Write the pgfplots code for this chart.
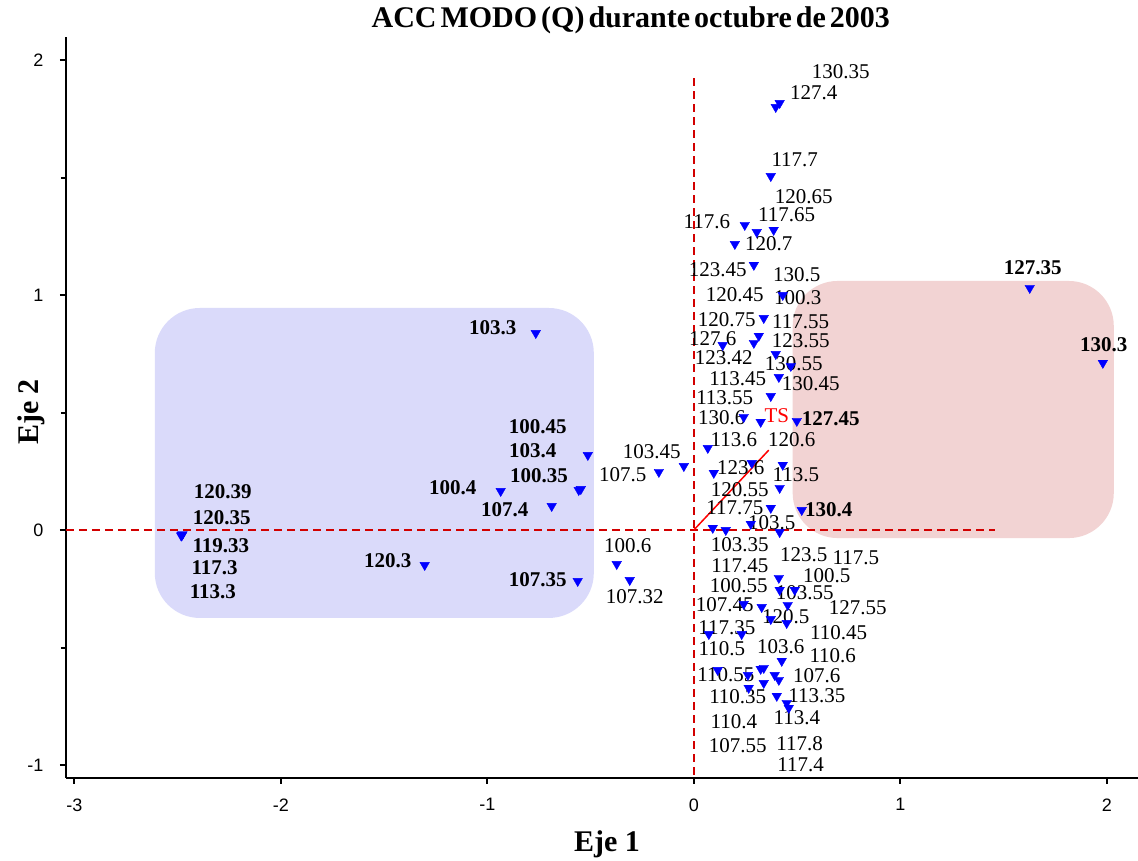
\documentclass[border=0pt]{standalone}
\usepackage{pgfplots}
\pgfplotsset{compat=1.18}
\usepackage{fontspec}
\setmainfont{Liberation Serif}
\newfontfamily\tickfont{Liberation Sans}
\definecolor{ptblue}{RGB}{0,0,255}
\definecolor{leftbox}{RGB}{218,218,250}
\definecolor{rightbox}{RGB}{242,211,211}
\definecolor{dashred}{RGB}{210,0,0}
\tikzset{
  lab/.style={font=\fontsize{21}{21}\selectfont, inner sep=0pt, anchor=center},
  blab/.style={font=\bfseries\fontsize{21}{21}\selectfont, inner sep=0pt, anchor=center},
}
\pgfplotstableread{
x y
-0.765 0.838
-0.513 0.319
-0.557 0.170
-0.547 0.174
-0.935 0.166
-0.688 0.102
-2.479 -0.021
-2.476 -0.018
-2.482 -0.024
-2.478 -0.020
-2.480 -0.022
-1.303 -0.149
-0.562 -0.217
1.627 1.030
1.981 0.711
0.499 0.464
0.523 0.085
0.397 1.800
0.416 1.817
0.373 1.506
0.247 1.298
0.305 1.268
0.387 1.277
0.199 1.217
0.291 1.128
0.431 1.000
0.339 0.902
0.315 0.826
0.291 0.796
0.140 0.787
0.397 0.749
0.470 0.698
0.412 0.651
0.373 0.570
0.242 0.481
0.324 0.460
0.068 0.349
-0.048 0.272
-0.169 0.247
0.097 0.243
0.281 0.285
0.431 0.277
0.416 0.179
0.373 0.094
0.276 0.026
0.092 0.009
0.155 0.000
0.416 -0.009
-0.373 -0.145
-0.310 -0.213
0.412 -0.204
0.416 -0.255
0.489 -0.255
0.455 -0.319
0.242 -0.315
0.329 -0.328
0.373 -0.379
0.450 -0.396
0.073 -0.443
0.232 -0.443
0.426 -0.557
0.116 -0.596
0.262 -0.617
0.324 -0.591
0.339 -0.587
0.392 -0.617
0.412 -0.638
0.266 -0.672
0.339 -0.651
0.402 -0.706
0.450 -0.736
0.460 -0.757
}\pts
\begin{document}
\begin{tikzpicture}
\begin{axis}[
  at={(0,0)}, anchor=south west,
  scale only axis,
  x=206.5pt, y=235pt,
  xmin=-3.04, xmax=2.15, ymin=-1.055, ymax=2.1,
  axis x line*=bottom, axis y line*=left,
  axis line style={line width=1.6pt, -},
  xtick={-3,-2,-1,0,1,2}, xticklabels={-3,-2,-1,0,1,2},
  ytick={-1,0,1,2}, yticklabels={-1,0,1,2},
  minor ytick={-0.5,0.5,1.5},
  tick align=outside,
  major tick length=6pt, minor tick length=5pt,
  tick style={line width=2pt, black},
  every tick label/.append style={font=\tickfont\fontsize{18}{18}\selectfont},
  xticklabel style={yshift=-11pt},
  yticklabel style={xshift=-13pt},
  clip=false,
  title={\bfseries\fontsize{30}{30}\selectfont\spaceskip=4pt ACC MODO (Q) durante octubre de 2003},
  title style={at={(axis description cs:0.527,1.0116)}, anchor=base, yshift=0pt},
  every axis title shift=0pt,
  xlabel={\bfseries\fontsize{30}{30}\selectfont Eje 1},
  xlabel style={at={(axis description cs:0.5047,-0.0985)}, anchor=base},
  ylabel={\bfseries\fontsize{30}{30}\selectfont Eje 2},
  ylabel style={at={(axis description cs:-0.0252,0.4937)}, anchor=base},
]
% shaded groups
\fill[leftbox, rounded corners=45pt] (axis cs:-2.61,0.945) rectangle (axis cs:-0.484,-0.374);
\fill[rightbox, rounded corners=45pt] (axis cs:0.479,1.06) rectangle (axis cs:2.034,-0.034);
% reference lines
\draw[dashred, line width=1.5pt, dash pattern=on 8pt off 5pt] (axis cs:-3.04,0) -- (axis cs:1.46,0);
\draw[dashred, line width=1.6pt, dash pattern=on 8pt off 5pt] (axis cs:0,1.923) -- (axis cs:0,-1.055);
\draw[red, line width=1.5pt] (axis cs:0,0) -- (axis cs:0.363,0.340);
\node[lab, text=red] at (axis cs:0.402,0.489) {TS};
% points
\addplot[only marks, mark=triangle*, mark size=5.5pt,
  mark options={rotate=180, fill=ptblue, draw=ptblue}] table {\pts};
% labels (centre)
\node[lab] at (axis cs:0.712,1.949) {130.35};
\node[lab] at (axis cs:0.581,1.860) {127.4};
\node[lab] at (axis cs:0.489,1.574) {117.7};
\node[lab] at (axis cs:0.533,1.417) {120.65};
\node[lab] at (axis cs:0.063,1.311) {117.6};
\node[lab] at (axis cs:0.450,1.340) {117.65};
\node[lab] at (axis cs:0.363,1.217) {120.7};
\node[lab] at (axis cs:0.116,1.106) {123.45};
\node[lab] at (axis cs:0.499,1.085) {130.5};
\node[lab] at (axis cs:0.199,1.000) {120.45};
\node[lab] at (axis cs:0.504,0.987) {100.3};
\node[lab] at (axis cs:0.160,0.894) {120.75};
\node[lab] at (axis cs:0.518,0.885) {117.55};
\node[lab] at (axis cs:0.092,0.813) {127.6};
\node[lab] at (axis cs:0.518,0.804) {123.55};
\node[lab] at (axis cs:0.145,0.732) {123.42};
\node[lab] at (axis cs:0.484,0.706) {130.55};
\node[lab] at (axis cs:0.213,0.643) {113.45};
\node[lab] at (axis cs:0.567,0.621) {130.45};
\node[lab] at (axis cs:0.150,0.562) {113.55};
\node[lab] at (axis cs:0.136,0.477) {130.6};
\node[blab] at (axis cs:0.663,0.472) {127.45};
\node[lab] at (axis cs:0.194,0.383) {113.6};
\node[lab] at (axis cs:0.475,0.383) {120.6};
\node[lab] at (axis cs:-0.203,0.332) {103.45};
\node[lab] at (axis cs:-0.344,0.234) {107.5};
\node[lab] at (axis cs:0.228,0.264) {123.6};
\node[lab] at (axis cs:0.494,0.234) {113.5};
\node[lab] at (axis cs:0.223,0.170) {120.55};
\node[lab] at (axis cs:0.199,0.094) {117.75};
\node[blab] at (axis cs:0.654,0.085) {130.4};
\node[lab] at (axis cs:0.378,0.030) {103.5};
\node[lab] at (axis cs:0.223,-0.064) {103.35};
\node[lab] at (axis cs:-0.320,-0.068) {100.6};
\node[lab] at (axis cs:0.533,-0.106) {123.5};
\node[lab] at (axis cs:0.785,-0.119) {117.5};
\node[lab] at (axis cs:-0.286,-0.285) {107.32};
\node[lab] at (axis cs:0.223,-0.153) {117.45};
\node[lab] at (axis cs:0.644,-0.196) {100.5};
\node[lab] at (axis cs:0.218,-0.238) {100.55};
\node[lab] at (axis cs:0.538,-0.268) {103.55};
\node[lab] at (axis cs:0.150,-0.319) {107.45};
\node[lab] at (axis cs:0.794,-0.332) {127.55};
\node[lab] at (axis cs:0.446,-0.370) {120.5};
\node[lab] at (axis cs:0.160,-0.417) {117.35};
\node[lab] at (axis cs:0.702,-0.438) {110.45};
\node[lab] at (axis cs:0.136,-0.506) {110.5};
\node[lab] at (axis cs:0.421,-0.498) {103.6};
\node[lab] at (axis cs:0.673,-0.536) {110.6};
\node[lab] at (axis cs:0.155,-0.617) {110.55};
\node[lab] at (axis cs:0.596,-0.621) {107.6};
\node[lab] at (axis cs:0.596,-0.706) {113.35};
\node[lab] at (axis cs:0.213,-0.711) {110.35};
\node[lab] at (axis cs:0.499,-0.800) {113.4};
\node[lab] at (axis cs:0.194,-0.817) {110.4};
\node[lab] at (axis cs:0.513,-0.911) {117.8};
\node[lab] at (axis cs:0.213,-0.919) {107.55};
\node[lab] at (axis cs:0.518,-1.000) {117.4};
% bold group labels
\node[blab] at (axis cs:-0.973,0.860) {103.3};
\node[blab] at (axis cs:-0.755,0.438) {100.45};
\node[blab] at (axis cs:-0.780,0.336) {103.4};
\node[blab] at (axis cs:-0.750,0.230) {100.35};
\node[blab] at (axis cs:-1.167,0.179) {100.4};
\node[blab] at (axis cs:-0.915,0.085) {107.4};
\node[blab] at (axis cs:-2.281,0.162) {120.39};
\node[blab] at (axis cs:-2.286,0.051) {120.35};
\node[blab] at (axis cs:-2.290,-0.068) {119.33};
\node[blab] at (axis cs:-2.320,-0.162) {117.3};
\node[blab] at (axis cs:-2.329,-0.264) {113.3};
\node[blab] at (axis cs:-1.482,-0.132) {120.3};
\node[blab] at (axis cs:-0.755,-0.213) {107.35};
\node[blab] at (axis cs:1.641,1.115) {127.35};
\node[blab] at (axis cs:1.985,0.791) {130.3};
\end{axis}
\pgfresetboundingbox
\path[use as bounding box] (-66pt,-83pt) rectangle (1072pt,778pt);
\end{tikzpicture}
\end{document}
